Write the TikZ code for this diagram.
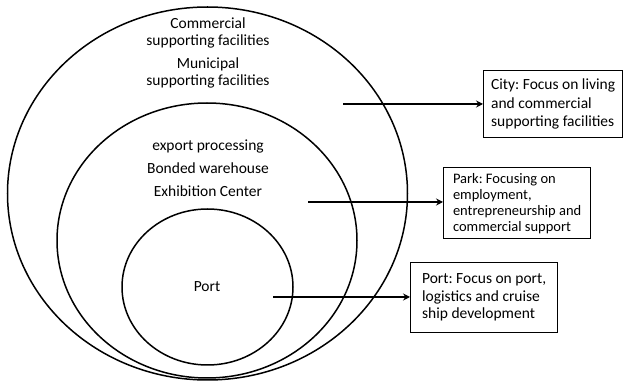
\documentclass[tikz,border=0pt]{standalone}
\usepackage{fontspec}
\setmainfont{Carlito}
\usepackage{tikz}
\usetikzlibrary{positioning, calc, shapes.geometric, arrows.meta, decorations.markings}
\tikzstyle{Arrow} = [
%Create custom arrow style:
line width = 1.6pt,
decoration={
markings,
mark=at position 1 with {
\arrow[line width = 1.2pt]{Stealth[length=7pt, width=7pt, inset=2.5pt]}
}
},
shorten >= 2pt, preaction = {decorate}
]
\frenchspacing

\begin{document}
\begin{tikzpicture}[x = 1pt, y = -1pt,
			zone/.style = {ellipse, line width = 1.5pt, draw, inner sep = 0pt},
			label/.style = {align = center, font = \fontsize{15.5}{17.5}\selectfont},
			focus/.style = {rectangle, line width = 1.3pt, draw, anchor = north west, align = left, inner sep = 0pt},
		]
		\useasboundingbox (0,0) rectangle (625,382);

		% nested zones
		\node[zone, minimum width = 400pt, minimum height = 373pt](city) at (207.5,193.5){};
		\node[zone, minimum width = 300pt, minimum height = 275pt](park) at (207,240.5){};
		\node[zone, minimum width = 171pt, minimum height = 156pt](port) at (207.5,287){};

		\node[label](citytop) at (208,33){Commercial\\supporting facilities};
		\node[label](citybot) at (208,73){Municipal\\supporting facilities};
		\node[label, font = \fontsize{15.5}{23}\selectfont](parktxt) at (208,168){export processing\\Bonded warehouse\\Exhibition Center};
		\node[label](porttxt) at (207,287){Port};

		% descriptions
		\node[focus, minimum width = 139pt, minimum height = 67pt, font = \fontsize{15.5}{18.5}\selectfont](citybox) at (483,70){City: Focus on living\\and commercial\\supporting facilities};
		\node[focus, minimum width = 147pt, minimum height = 71pt, font = \fontsize{14.5}{16}\selectfont](parkbox) at (443,167){Park: Focusing on\\employment,\\entrepreneurship and\\commercial support};
		\node[focus, minimum width = 147pt, minimum height = 70pt, font = \fontsize{15.5}{17.5}\selectfont](portbox) at (410,262){Port: Focus on port,\\logistics and cruise\\ship development};

		\coordinate(c1) at (343,104);
		\coordinate(c2) at (308,202);
		\coordinate(c3) at (273,297);

		\draw[Arrow](c1)--(c1 -| citybox.west);
		\draw[Arrow](c2)--(c2 -| parkbox.west);
		\draw[Arrow](c3)--(c3 -| portbox.west);

	\end{tikzpicture}
\end{document}
